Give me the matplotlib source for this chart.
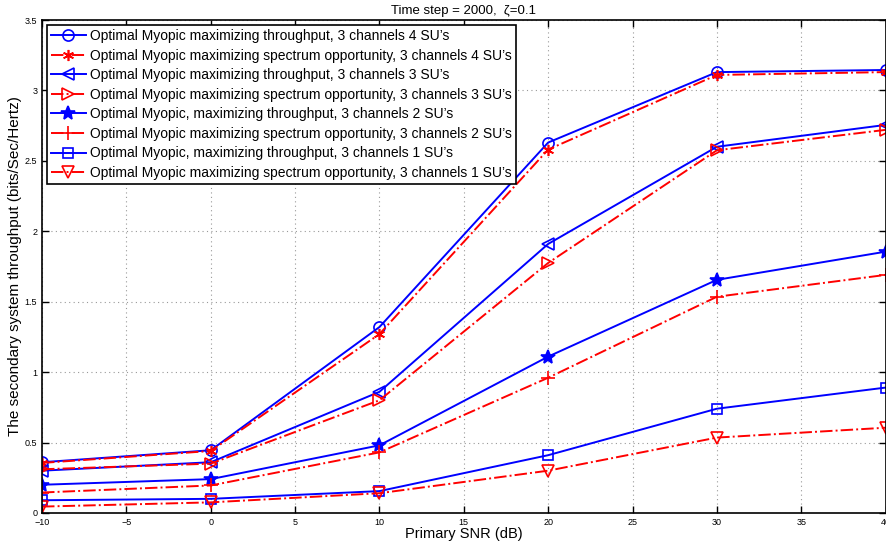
import matplotlib
matplotlib.use('Agg')
import matplotlib.pyplot as plt

plt.rcParams['font.family'] = ['Liberation Sans', 'DejaVu Sans']

snr = [-10, 0, 10, 20, 30, 40]

thr_4su = [0.36, 0.445, 1.32, 2.63, 3.13, 3.145]
opp_4su = [0.355, 0.44, 1.27, 2.58, 3.11, 3.13]
thr_3su = [0.30, 0.36, 0.86, 1.91, 2.60, 2.755]
opp_3su = [0.31, 0.35, 0.80, 1.775, 2.575, 2.72]
thr_2su = [0.20, 0.24, 0.48, 1.11, 1.655, 1.855]
opp_2su = [0.145, 0.195, 0.43, 0.96, 1.535, 1.69]
thr_1su = [0.09, 0.10, 0.155, 0.41, 0.74, 0.89]
opp_1su = [0.045, 0.075, 0.14, 0.30, 0.535, 0.605]

labels = [
    "Optimal Myopic maximizing throughput, 3 channels 4 SU\u2019s",
    "Optimal Myopic maximizing spectrum opportunity, 3 channels 4 SU\u2019s",
    "Optimal Myopic maximizing throughput, 3 channels 3 SU\u2019s",
    "Optimal Myopic maximizing spectrum opportunity, 3 channels 3 SU\u2019s",
    "Optimal Myopic, maximizing throughput, 3 channels 2 SU\u2019s",
    "Optimal Myopic maximizing spectrum opportunity, 3 channels 2 SU\u2019s",
    "Optimal Myopic, maximizing throughput, 3 channels 1 SU\u2019s",
    "Optimal Myopic maximizing spectrum opportunity, 3 channels 1 SU\u2019s",
]

fig = plt.figure(figsize=(8.87, 5.48), dpi=100)
ax = fig.add_axes([0.0474, 0.064, 0.951, 0.8995])

blue_kw = dict(color='#0000ff', linestyle='-', linewidth=1.4, markerfacecolor='none',
               markeredgewidth=1.2, markersize=8)
red_kw = dict(color='#ff0000', linestyle='-.', linewidth=1.4, markerfacecolor='none',
              markeredgewidth=1.2, markersize=8)

ax.plot(snr, thr_4su, marker='o', label=labels[0], **blue_kw)
ax.plot(snr, opp_4su, marker=(6, 2, 0), label=labels[1], **red_kw)
ax.plot(snr, thr_3su, marker='<', label=labels[2], **blue_kw)
ax.plot(snr, opp_3su, marker='>', label=labels[3], **red_kw)
star = dict(blue_kw)
star['markerfacecolor'] = '#0000ff'
star['markersize'] = 10
ax.plot(snr, thr_2su, marker='*', label=labels[4], **star)
ax.plot(snr, opp_2su, marker='+', label=labels[5], **dict(red_kw, markersize=10))
ax.plot(snr, thr_1su, marker='s', label=labels[6], **dict(blue_kw, markersize=7))
ax.plot(snr, opp_1su, marker='v', label=labels[7], **dict(red_kw, markersize=9))

ax.set_xlim(-10, 40)
ax.set_ylim(0, 3.5)
ax.set_xticks(range(-10, 41, 5))
ax.set_yticks([0, 0.5, 1, 1.5, 2, 2.5, 3, 3.5])
ax.set_yticklabels(['0', '0.5', '1', '1.5', '2', '2.5', '3', '3.5'])
ax.tick_params(direction='in', top=True, right=True, labelsize=6.5, length=5, width=1)
ax.grid(True, linestyle=(0, (1, 3)), color='#999999', linewidth=0.8)
for s in ax.spines.values():
    s.set_linewidth(1.2)

ax.set_xlabel('Primary SNR (dB)', fontsize=10.5, labelpad=0)
ax.set_ylabel('The secondary system throughput (bits/Sec/Hertz)', fontsize=11, labelpad=2)
ax.set_title('Time step = 2000,  \u03b6=0.1', fontsize=9.5, pad=4)

leg = ax.legend(loc='upper left', fontsize=10, fancybox=False, edgecolor='black',
                framealpha=1, handlelength=2.5, labelspacing=0.4, borderaxespad=0.35,
                borderpad=0.3, handletextpad=0.3)
leg.get_frame().set_linewidth(1.2)

fig.savefig('out.png', dpi=100)
